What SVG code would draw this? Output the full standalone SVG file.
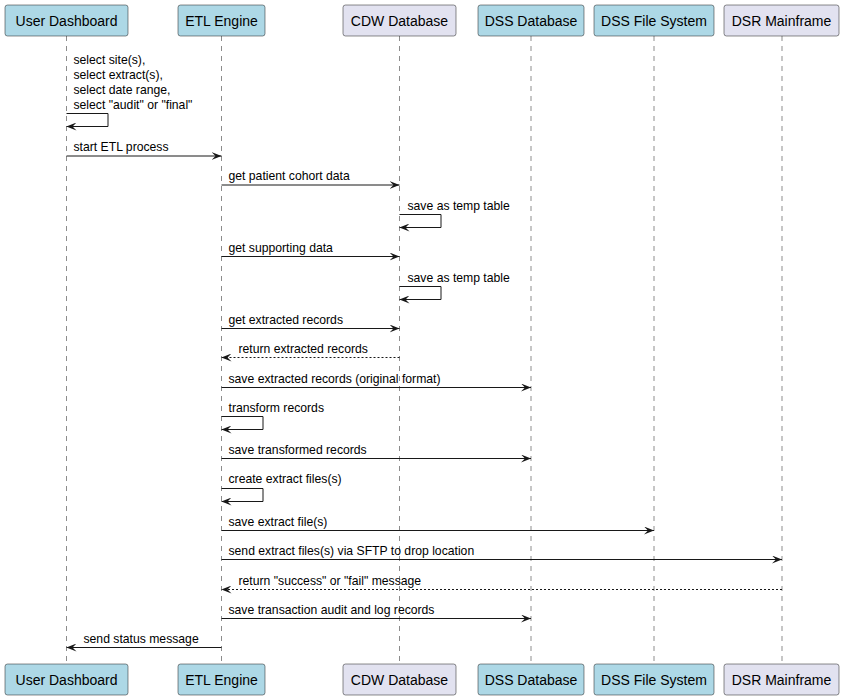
<svg xmlns="http://www.w3.org/2000/svg" width="847" height="700" viewBox="0 0 847 700">
<defs>
<style>
.bg{fill:#FFFFFF}
.life{stroke:#181818;stroke-width:0.5;stroke-dasharray:5,5;fill:none}
.pb{fill:#ADD8E6;stroke:#181818;stroke-width:0.5}
.pl{fill:#E2E2F0;stroke:#181818;stroke-width:0.5}
.pt{font-family:"Liberation Sans",Arial,sans-serif;font-size:14px;fill:#000000;text-anchor:middle}
.msg{stroke:#181818;stroke-width:1;fill:none}
.ret{stroke:#181818;stroke-width:1;fill:none;stroke-dasharray:2,2}
.mt{font-family:"Liberation Sans",Arial,sans-serif;font-size:12.2px;fill:#000000}
</style>
<marker id="ah" viewBox="0 0 10 8" refX="10" refY="4" markerWidth="10" markerHeight="8" markerUnits="userSpaceOnUse" orient="auto">
<path d="M0,0 L10,4 L0,8 L4,4 Z" fill="#181818"/>
</marker>
</defs>
<rect class="bg" x="0" y="0" width="847" height="700"/>
<g id="lifelines">
<line class="life" x1="66.5" y1="36" x2="66.5" y2="664"/>
<line class="life" x1="221.5" y1="36" x2="221.5" y2="664"/>
<line class="life" x1="399.5" y1="36" x2="399.5" y2="664"/>
<line class="life" x1="531" y1="36" x2="531" y2="664"/>
<line class="life" x1="654" y1="36" x2="654" y2="664"/>
<line class="life" x1="782" y1="36" x2="782" y2="664"/>
</g>
<g id="p-user">
<rect class="pb" x="5" y="5" width="123" height="31" rx="2.5"/>
<text class="pt" x="66.5" y="25.5">User Dashboard</text>
<rect class="pb" x="5" y="664" width="123" height="31" rx="2.5"/>
<text class="pt" x="66.5" y="684.5">User Dashboard</text>
</g>
<g id="p-etl">
<rect class="pb" x="178" y="5" width="87" height="31" rx="2.5"/>
<text class="pt" x="221.5" y="25.5">ETL Engine</text>
<rect class="pb" x="178" y="664" width="87" height="31" rx="2.5"/>
<text class="pt" x="221.5" y="684.5">ETL Engine</text>
</g>
<g id="p-cdw">
<rect class="pl" x="343" y="5" width="113" height="31" rx="2.5"/>
<text class="pt" x="399.5" y="25.5">CDW Database</text>
<rect class="pl" x="343" y="664" width="113" height="31" rx="2.5"/>
<text class="pt" x="399.5" y="684.5">CDW Database</text>
</g>
<g id="p-dssdb">
<rect class="pb" x="478" y="5" width="106" height="31" rx="2.5"/>
<text class="pt" x="531" y="25.5">DSS Database</text>
<rect class="pb" x="478" y="664" width="106" height="31" rx="2.5"/>
<text class="pt" x="531" y="684.5">DSS Database</text>
</g>
<g id="p-dssfs">
<rect class="pb" x="594" y="5" width="120" height="31" rx="2.5"/>
<text class="pt" x="654" y="25.5">DSS File System</text>
<rect class="pb" x="594" y="664" width="120" height="31" rx="2.5"/>
<text class="pt" x="654" y="684.5">DSS File System</text>
</g>
<g id="p-dsr">
<rect class="pl" x="724" y="5" width="115" height="31" rx="2.5"/>
<text class="pt" x="781.5" y="25.5">DSR Mainframe</text>
<rect class="pl" x="724" y="664" width="115" height="31" rx="2.5"/>
<text class="pt" x="781.5" y="684.5">DSR Mainframe</text>
</g>
<g id="connectors">
<polyline class="msg" points="66.5,113.5 108,113.5 108,126.5 66.5,126.5" marker-end="url(#ah)"/>
<line class="msg" x1="66.5" y1="156" x2="221.5" y2="156" marker-end="url(#ah)"/>
<line class="msg" x1="221.5" y1="185" x2="399.5" y2="185" marker-end="url(#ah)"/>
<polyline class="msg" points="399.5,214.5 441,214.5 441,227.5 399.5,227.5" marker-end="url(#ah)"/>
<line class="msg" x1="221.5" y1="256.5" x2="399.5" y2="256.5" marker-end="url(#ah)"/>
<polyline class="msg" points="399.5,286.5 441,286.5 441,299.5 399.5,299.5" marker-end="url(#ah)"/>
<line class="msg" x1="221.5" y1="328.5" x2="399.5" y2="328.5" marker-end="url(#ah)"/>
<line class="ret" x1="399.5" y1="357.5" x2="221.5" y2="357.5" marker-end="url(#ah)"/>
<line class="msg" x1="221.5" y1="387.5" x2="531" y2="387.5" marker-end="url(#ah)"/>
<polyline class="msg" points="221.5,416.5 263,416.5 263,429.5 221.5,429.5" marker-end="url(#ah)"/>
<line class="msg" x1="221.5" y1="458.5" x2="531" y2="458.5" marker-end="url(#ah)"/>
<polyline class="msg" points="221.5,488.5 263,488.5 263,501.5 221.5,501.5" marker-end="url(#ah)"/>
<line class="msg" x1="221.5" y1="530.5" x2="654" y2="530.5" marker-end="url(#ah)"/>
<line class="msg" x1="221.5" y1="559.5" x2="782" y2="559.5" marker-end="url(#ah)"/>
<line class="ret" x1="782" y1="589.5" x2="221.5" y2="589.5" marker-end="url(#ah)"/>
<line class="msg" x1="221.5" y1="618.5" x2="531" y2="618.5" marker-end="url(#ah)"/>
<line class="msg" x1="221.5" y1="647.5" x2="66.5" y2="647.5" marker-end="url(#ah)"/>
</g>
<g id="labels">
<text class="mt" x="73.5" y="63.5">select site(s),</text>
<text class="mt" x="73.5" y="78.5">select extract(s),</text>
<text class="mt" x="73.5" y="93.5">select date range,</text>
<text class="mt" x="73.5" y="108.5">select "audit" or "final"</text>
<text class="mt" x="73.5" y="151">start ETL process</text>
<text class="mt" x="228.5" y="180">get patient cohort data</text>
<text class="mt" x="407.5" y="210">save as temp table</text>
<text class="mt" x="228.5" y="251.5">get supporting data</text>
<text class="mt" x="407.5" y="282">save as temp table</text>
<text class="mt" x="228.5" y="323.5">get extracted records</text>
<text class="mt" x="238.5" y="352.5">return extracted records</text>
<text class="mt" x="228.5" y="382.5">save extracted records (original format)</text>
<text class="mt" x="228.5" y="412">transform records</text>
<text class="mt" x="228.5" y="453.5">save transformed records</text>
<text class="mt" x="228.5" y="483">create extract files(s)</text>
<text class="mt" x="228.5" y="525.5">save extract file(s)</text>
<text class="mt" x="228.5" y="554.5">send extract files(s) via SFTP to drop location</text>
<text class="mt" x="238.5" y="584.5">return "success" or "fail" message</text>
<text class="mt" x="228.5" y="613.5">save transaction audit and log records</text>
<text class="mt" x="83.5" y="642.5">send status message</text>
</g>
</svg>
